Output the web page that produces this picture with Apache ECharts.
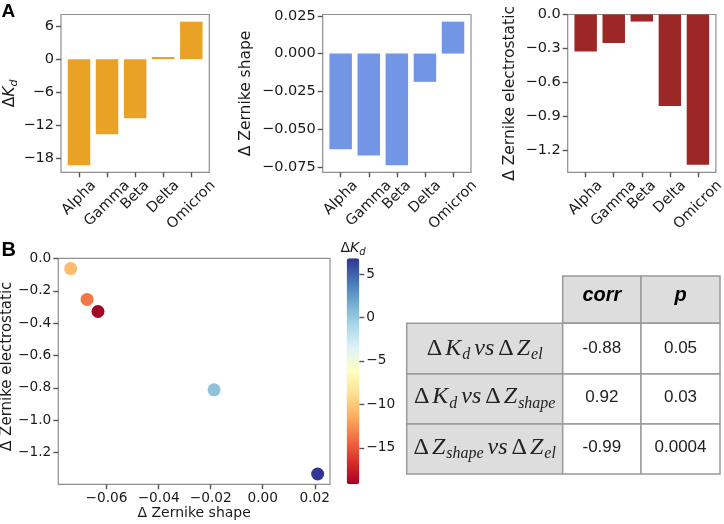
<!DOCTYPE html>
<html><head><meta charset="utf-8">
<script src="https://cdn.jsdelivr.net/npm/echarts@6/dist/echarts.min.js"></script>
<style>html,body{margin:0;padding:0;background:#fff}#c{width:724px;height:524px}</style>
</head><body><div id="c"></div>
<script>
// ---- data ----
const variants = ['Alpha', 'Gamma', 'Beta', 'Delta', 'Omicron'];
const deltaKd = [-19.2, -13.6, -10.7, 0.4, 6.8];
const deltaZshape = [-0.0633, -0.0675, -0.0738, -0.0187, 0.0211];
const deltaZel = [-0.328, -0.253, -0.0625, -0.8125, -1.333];
const kdTicks = [-18, -12, -6, 0, 6];
const shapeTicks = [-0.075, -0.05, -0.025, 0, 0.025];
const elTicks = [-1.2, -0.9, -0.6, -0.3, 0];
const scatterXTicks = [-0.06, -0.04, -0.02, 0, 0.02];
const scatterYTicks = [-1.2, -1.0, -0.8, -0.6, -0.4, -0.2, 0];
const cbarTicks = [-15, -10, -5, 0, 5];
const tableHeader = ['corr', 'p'];
const rowLabelParts = [
  [['K', 'd'], ['Z', 'el']],
  [['K', 'd'], ['Z', 'shape']],
  [['Z', 'shape'], ['Z', 'el']]
];
const corrVals = ['-0.88', '0.92', '-0.99'];
const pVals = ['0.05', '0.03', '0.0004'];
const rdylbu = ['#a50026', '#d73027', '#f46d43', '#fdae61', '#fee090', '#ffffbf', '#e0f3f8', '#abd9e9', '#74add1', '#4575b4', '#313695'];

// ---- helpers ----
const AX = '#8f8f8f';
const TICK = '#555555';
const TXT = '#1a1a1a';
const SANS = '"DejaVu Sans"';
function minus(s) { return String(s).replace('-', '\u2212'); }
function lim(vals, includeZero, stickyZero) {
  let lo = Math.min(...vals), hi = Math.max(...vals);
  if (includeZero) { lo = Math.min(lo, 0); hi = Math.max(hi, 0); }
  const m = (hi - lo) * 0.05;
  let a = lo - m, b = hi + m;
  if (stickyZero) { if (hi === 0) b = 0; if (lo === 0) a = 0; }
  return [a, b];
}
const barGrids = [
  { left: 61, top: 14.5, width: 148.3, height: 157.8 },
  { left: 322.7, top: 14.5, width: 148.3, height: 157.8 },
  { left: 567.7, top: 14.5, width: 148.2, height: 157.8 }
];
const scatterGrid = { left: 58.3, top: 258.3, width: 271.7, height: 226 };
const cbarGrid = { left: 346.7, top: 258.3, width: 12.6, height: 226 };
const xBarMin = -0.4 - 0.24, xBarMax = 4.4 + 0.24;
const noLine = () => ({ show: false, onZero: false });
const tick = ticks => ({ show: true, customValues: ticks, length: 5, lineStyle: { color: TICK, width: 1.4 } });
const gridBase = () => ({ show: true, borderColor: AX, borderWidth: 1.2, containLabel: false, outerBoundsMode: 'none' });

const barSets = [
  { vals: deltaKd, ticks: kdTicks, color: '#e9a126', fmt: v => minus(v.toFixed(0)), gap: 41,
    name: '{g|\u0394}{k|K}{s|d}', sz: 15.5 },
  { vals: deltaZshape, ticks: shapeTicks, color: '#7395e6', fmt: v => minus(v.toFixed(3)), gap: 69,
    name: '\u0394 Zernike shape', sz: 15.5 },
  { vals: deltaZel, ticks: elTicks, color: '#9b2727', fmt: v => minus(v.toFixed(1)), gap: 50,
    name: '\u0394 Zernike electrostatic', sz: 15.5 }
];

const grids = [], xAxes = [], yAxes = [], series = [];
barSets.forEach((s, i) => {
  const g = barGrids[i];
  grids.push(Object.assign(gridBase(), g));
  const [ymin, ymax] = lim(s.vals, true, true);
  xAxes.push({ gridIndex: i, type: 'value', min: xBarMin, max: xBarMax,
    axisLine: noLine(), splitLine: { show: false },
    axisTick: tick([0, 1, 2, 3, 4]),
    axisLabel: { show: false } });
  yAxes.push({ gridIndex: i, type: 'value', min: ymin, max: ymax,
    axisLine: noLine(), splitLine: { show: false },
    axisTick: tick(s.ticks),
    axisLabel: { customValues: s.ticks, formatter: s.fmt, margin: 7, fontSize: 14.5, fontFamily: SANS, color: TXT },
    name: s.name, nameLocation: 'middle', nameRotate: 90, nameGap: s.gap,
    nameTextStyle: { fontSize: s.sz, fontFamily: SANS, color: TXT,
      rich: { g: { fontSize: s.sz, fontFamily: SANS, color: TXT },
              k: { fontSize: s.sz, fontFamily: SANS, fontStyle: 'italic', color: TXT },
              s: { fontSize: 11, fontFamily: SANS, fontStyle: 'italic', color: TXT, padding: [9, 0, 0, 0] } } } });
  const bw = g.width / (xBarMax - xBarMin) * 0.8;
  series.push({ type: 'bar', xAxisIndex: i, yAxisIndex: i, barWidth: bw, animation: false,
    itemStyle: { color: s.color }, data: variants.map((v, j) => [j, s.vals[j]]) });
});

// scatter grid
grids.push(Object.assign(gridBase(), scatterGrid));
const [sxmin, sxmax] = lim(deltaZshape, false, false);
const [symin, symax] = lim(deltaZel, false, false);
xAxes.push({ gridIndex: 3, type: 'value', min: sxmin, max: sxmax,
  axisLine: noLine(), splitLine: { show: false },
  axisTick: tick(scatterXTicks),
  axisLabel: { customValues: scatterXTicks, formatter: v => minus(v.toFixed(2)), margin: 7, fontSize: 13.7, fontFamily: SANS, color: TXT },
  name: '\u0394 Zernike shape', nameLocation: 'middle', nameGap: 22,
  nameTextStyle: { fontSize: 14, fontFamily: SANS, color: TXT } });
yAxes.push({ gridIndex: 3, type: 'value', min: symin, max: symax,
  axisLine: noLine(), splitLine: { show: false },
  axisTick: tick(scatterYTicks),
  axisLabel: { customValues: scatterYTicks, formatter: v => minus(v.toFixed(1)), margin: 7, fontSize: 13.7, fontFamily: SANS, color: TXT },
  name: '\u0394 Zernike electrostatic', nameLocation: 'middle', nameRotate: 90, nameGap: 41,
  nameTextStyle: { fontSize: 15, fontFamily: SANS, color: TXT, padding: [0, 0, 0, 10] } });
series.push({ type: 'scatter', xAxisIndex: 3, yAxisIndex: 3, symbolSize: 13, animation: false,
  itemStyle: { opacity: 1 },
  data: variants.map((v, j) => [deltaZshape[j], deltaZel[j], deltaKd[j]]) });

// colorbar axis grid
grids.push(Object.assign(gridBase(), cbarGrid, { show: false }));
const kmin = Math.min(...deltaKd), kmax = Math.max(...deltaKd);
xAxes.push({ gridIndex: 4, type: 'value', min: 0, max: 1, show: false });
yAxes.push({ gridIndex: 4, type: 'value', position: 'right', min: kmin, max: kmax,
  axisLine: noLine(), splitLine: { show: false },
  axisTick: tick(cbarTicks),
  axisLabel: { customValues: cbarTicks, formatter: v => minus(v.toFixed(0)), margin: 7, fontSize: 13.7, fontFamily: SANS, color: TXT } });

const option = {
  backgroundColor: '#ffffff',
  animation: false,
  grid: grids, xAxis: xAxes, yAxis: yAxes, series: series,
  visualMap: {
    type: 'continuous', seriesIndex: 3, dimension: 2, min: kmin, max: kmax,
    inRange: { color: rdylbu, opacity: 1 }, calculable: false, padding: 0, itemWidth: cbarGrid.width, itemHeight: cbarGrid.height,
    left: cbarGrid.left, top: cbarGrid.top, text: null, hoverLink: false
  }
};

const chart = echarts.init(document.getElementById('c'), null, { renderer: 'canvas' });
chart.setOption(option);

// ---- rotated category labels (matplotlib-like centred placement) + text graphics ----
const ctx = document.createElement('canvas').getContext('2d');
const lblSize = 14.5;
ctx.font = lblSize + 'px ' + SANS;
const graphics = [];
barGrids.forEach((g, i) => {
  const y0 = g.top + g.height + 6;
  variants.forEach((name, j) => {
    const px = chart.convertToPixel({ gridIndex: i }, [j, 0])[0];
    const L = ctx.measureText(name).width;
    const h = lblSize;
    graphics.push({ type: 'text', x: px, y: y0 + (L + h) / (2 * Math.SQRT2), rotation: Math.PI / 4,
      style: { text: name, fontSize: lblSize, fontFamily: 'DejaVu Sans', fill: TXT,
        align: 'center', verticalAlign: 'middle', textAlign: 'center', textVerticalAlign: 'middle' } });
  });
});

// panel letters
graphics.push({ type: 'text', x: 1.5, y: 11.7, style: { text: 'A', fontSize: 19, fontWeight: 'bold', fontFamily: 'Liberation Sans', fill: '#000', align: 'left', verticalAlign: 'middle', textAlign: 'left', textVerticalAlign: 'middle' } });
graphics.push({ type: 'text', x: 1.5, y: 250.8, style: { text: 'B', fontSize: 20, fontWeight: 'bold', fontFamily: 'Liberation Sans', fill: '#000', align: 'left', verticalAlign: 'middle', textAlign: 'left', textVerticalAlign: 'middle' } });

// colorbar title
graphics.push({ type: 'text', x: cbarGrid.left + cbarGrid.width / 2, y: 248,
  style: { text: '{g|\u0394}{k|K}{s|d}', align: 'center', verticalAlign: 'middle', textAlign: 'center', textVerticalAlign: 'middle',
    rich: { g: { fontSize: 14, fontFamily: 'DejaVu Sans', fill: TXT, color: TXT },
            k: { fontSize: 14, fontFamily: 'DejaVu Sans', fontStyle: 'italic', fill: TXT, color: TXT },
            s: { fontSize: 10, fontFamily: 'DejaVu Sans', fontStyle: 'italic', fill: TXT, color: TXT, padding: [8, 0, 0, 0] } } } });

// table
const colX = [406.7, 562.7, 641, 720];
const rowY = [276, 323.3, 374, 424, 474];
const rowTextY = [348.5, 397, 447.5];
const valTextY = [348.3, 396.9, 446.9];
const GRAY = '#dddddd', BORD = '#9a9a9a';
function cell(x0, y0, x1, y1, fill) {
  graphics.push({ type: 'rect', shape: { x: x0, y: y0, width: x1 - x0, height: y1 - y0 },
    style: { fill: fill, stroke: BORD, lineWidth: 1.5 } });
}
cell(colX[1], rowY[0], colX[2], rowY[1], GRAY);
cell(colX[2], rowY[0], colX[3], rowY[1], GRAY);
for (let r = 0; r < 3; r++) {
  cell(colX[0], rowY[r + 1], colX[1], rowY[r + 2], GRAY);
  cell(colX[1], rowY[r + 1], colX[2], rowY[r + 2], '#ffffff');
  cell(colX[2], rowY[r + 1], colX[3], rowY[r + 2], '#ffffff');
}
tableHeader.forEach((t, k) => {
  graphics.push({ type: 'text', x: (colX[k + 1] + colX[k + 2]) / 2, y: 295.5,
    style: { text: t, fontSize: 20, fontWeight: 'bold', fontStyle: 'italic', fontFamily: 'Liberation Sans', fill: '#000',
      align: 'center', verticalAlign: 'middle', textAlign: 'center', textVerticalAlign: 'middle' } });
});
const SERIF = 'Liberation Serif';
const richMath = {
  g: { fontSize: 24, fontFamily: SERIF, fill: '#222', color: '#222', padding: [0, 3, 0, 0] },
  i: { fontSize: 24, fontFamily: SERIF, fontStyle: 'italic', fill: '#222', color: '#222' },
  s: { fontSize: 16, fontFamily: SERIF, fontStyle: 'italic', fill: '#222', color: '#222', padding: [13, 0, 0, 1] },
  v: { fontSize: 24, fontFamily: SERIF, fontStyle: 'italic', fill: '#222', color: '#222', padding: [0, 4, 0, 4] }
};
rowLabelParts.forEach((parts, r) => {
  const txt = '{g|\u0394}{i|' + parts[0][0] + '}{s|' + parts[0][1] + '}{v|vs}{g|\u0394}{i|' + parts[1][0] + '}{s|' + parts[1][1] + '}';
  graphics.push({ type: 'text', x: (colX[0] + colX[1]) / 2, y: rowTextY[r],
    style: { text: txt, rich: richMath, align: 'center', verticalAlign: 'middle', textAlign: 'center', textVerticalAlign: 'middle' } });
  [corrVals[r], pVals[r]].forEach((v, k) => {
    graphics.push({ type: 'text', x: (colX[k + 1] + colX[k + 2]) / 2, y: valTextY[r],
      style: { text: v, fontSize: 17, fontFamily: 'Liberation Sans', fill: '#222',
        align: 'center', verticalAlign: 'middle', textAlign: 'center', textVerticalAlign: 'middle' } });
  });
});

chart.setOption({ graphic: { elements: graphics } });
</script></body></html>
